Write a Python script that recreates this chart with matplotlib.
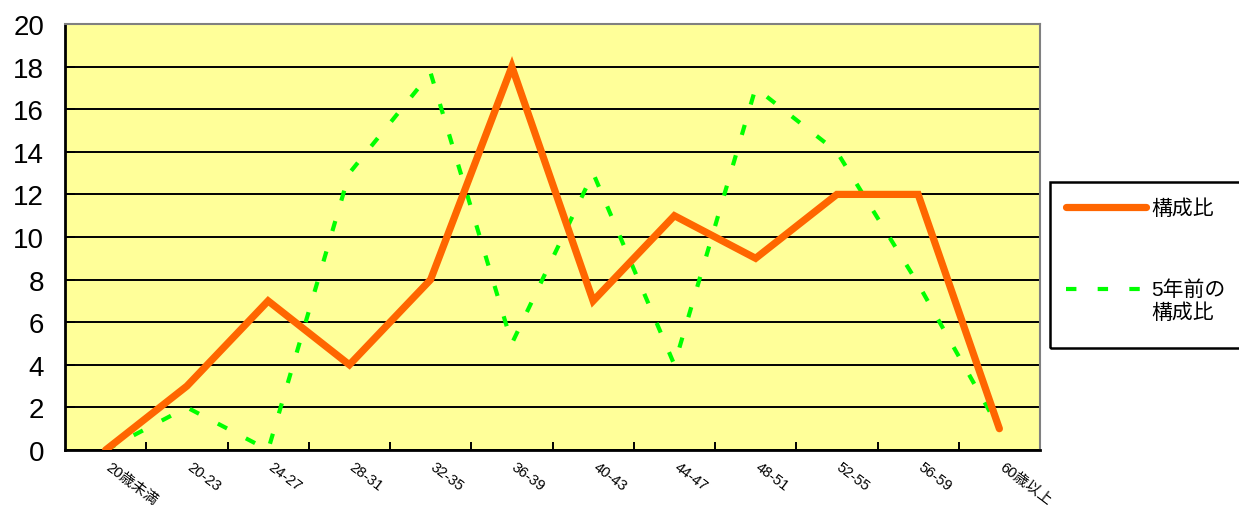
import matplotlib
matplotlib.use("Agg")
import matplotlib.pyplot as plt
from matplotlib.patches import Rectangle
from matplotlib.lines import Line2D

# data
categories = ["20歳未満", "20-23", "24-27", "28-31", "32-35", "36-39",
              "40-43", "44-47", "48-51", "52-55", "56-59", "60歳以上"]
now_vals = [0, 3, 7, 4, 8, 18, 7, 11, 9, 12, 12, 1]
before_vals = [0, 2, 0, 13, 17.7, 5, 13, 4, 17, 14, 7.8, 1]
yticks = list(range(0, 21, 2))
now_label = "構成比"
before_label = "5年前の\n構成比"

plt.rcParams['font.family'] = ['Liberation Sans', 'Noto Sans CJK JP', 'DejaVu Sans']

W, H = 1239, 506
fig = plt.figure(figsize=(W/100, H/100), dpi=100)
ax = fig.add_axes([65/W, 1-451/H, (1040-65)/W, (451-25)/H])
ax.set_facecolor('#FFFF99')

green_style = dict(color='#00FF00', lw=3, dashes=(2.5, 5.1))
orange_style = dict(color='#FF6600', lw=5.2, solid_capstyle='round')

x = list(range(len(categories)))
ax.plot(x, before_vals, zorder=3, **green_style)
ax.plot(x, now_vals, zorder=4, solid_joinstyle='miter', **orange_style)

ax.set_xlim(-0.5, len(categories) - 0.5)
ax.set_ylim(0, 20)
ax.set_yticks(yticks)
ax.set_yticklabels([str(v) for v in yticks], fontsize=20)
ax.yaxis.grid(True, color='black', lw=1.4)
ax.set_axisbelow(True)

# ticks sit on the category boundaries
ax.set_xticks([i + 0.5 for i in x[:-1]])
ax.set_xticklabels([])
ax.tick_params(axis='x', direction='in', length=6, width=1.4, color='black')
ax.tick_params(axis='y', direction='in', length=7, width=1.4, pad=15)
for i, lab in enumerate(categories):
    ax.text(i + 0.07, -0.45, lab, rotation=-37, rotation_mode='anchor',
            ha='left', va='top', fontsize=10.6,
            family=['Liberation Sans', 'Noto Sans CJK JP'])

for s in ['left', 'bottom']:
    ax.spines[s].set_color('black')
    ax.spines[s].set_linewidth(2)
for s in ['top', 'right']:
    ax.spines[s].set_color('#808080')
    ax.spines[s].set_linewidth(1.5)

# legend, box runs off the right edge like the original
fig.patches.append(Rectangle((1050/W, 1-349/H), 0.2, 166/H,
                             transform=fig.transFigure, fill=False,
                             edgecolor='black', lw=1.8))
fig.lines.append(Line2D([1066/W, 1146/W], [1-208/H, 1-208/H],
                        transform=fig.transFigure, **orange_style))
fig.lines.append(Line2D([1066/W, 1142/W], [1-290/H, 1-290/H],
                        transform=fig.transFigure, **green_style))
leg_font = dict(fontsize=15, family=['Liberation Sans', 'Noto Sans CJK JP'])
fig.text(1151/W, 1-209/H, now_label, ha='left', va='center', **leg_font)
fig.text(1151/W, 1-280/H, before_label, ha='left', va='top',
         linespacing=1.22, **leg_font)

fig.savefig('out.png', dpi=100)
